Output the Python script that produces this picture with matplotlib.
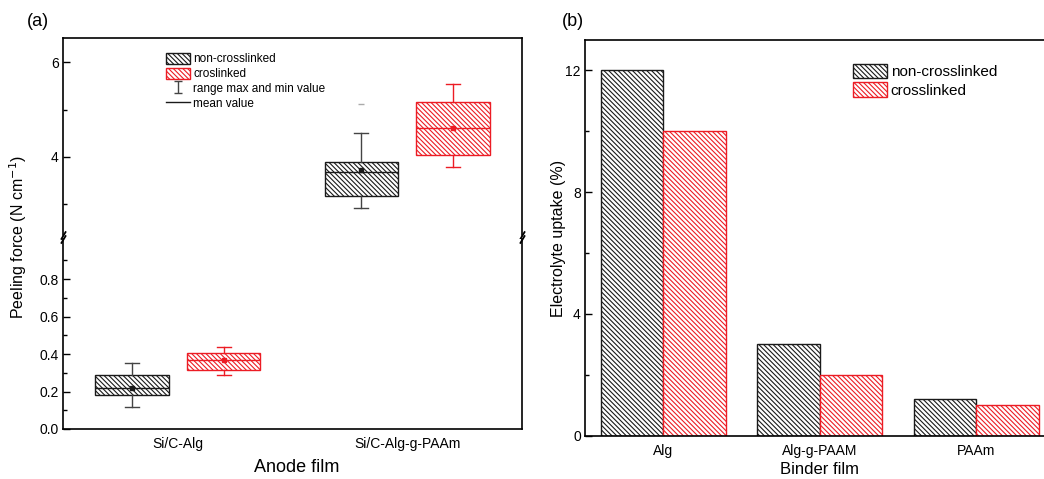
import matplotlib
matplotlib.use("Agg")
import matplotlib.pyplot as plt
import numpy as np
from matplotlib.patches import Patch
from matplotlib.lines import Line2D

plt.rcParams["font.family"] = ["Liberation Sans", "DejaVu Sans"]
plt.rcParams["hatch.linewidth"] = 0.8
plt.rcParams["axes.linewidth"] = 1.2

BLACK = "#1a1a1a"
RED = "#ec1c24"
HATCH = "\\" * 7

# (a) peeling force, box statistics per anode film
anodes = ["Si/C-Alg", "Si/C-Alg-g-PAAm"]
nc_whislo = [0.12, 2.90]
nc_q1 = [0.183, 3.17]
nc_med = [0.22, 3.68]
nc_q3 = [0.287, 3.875]
nc_whishi = [0.35, 4.51]
nc_mean = [0.218, 3.71]
nc_fliers = [[], [5.125]]

cl_whislo = [0.29, 3.78]
cl_q1 = [0.313, 4.04]
cl_med = [0.367, 4.60]
cl_q3 = [0.405, 5.17]
cl_whishi = [0.436, 5.55]
cl_mean = [0.367, 4.60]
cl_fliers = [[], []]

# (b) electrolyte uptake
binders = ["Alg", "Alg-g-PAAM", "PAAm"]
uptake_nc = [12.0, 3.0, 1.2]
uptake_cl = [10.0, 2.0, 1.0]


def make_stats(lo, q1, med, q3, hi, mean, fliers):
    return [dict(whislo=lo[i], q1=q1[i], med=med[i], q3=q3[i], whishi=hi[i],
                 mean=mean[i], fliers=fliers[i]) for i in range(len(lo))]


W, H = 1044, 479
fig = plt.figure(figsize=(W / 100, H / 100), dpi=100)


def fbox(x0, y_top, x1, y_bot):
    return [x0 / W, 1 - y_bot / H, (x1 - x0) / W, (y_bot - y_top) / H]


ax_top = fig.add_axes(fbox(63, 38, 522, 235))
ax_bot = fig.add_axes(fbox(63, 239, 522, 429))
ax_b = fig.add_axes(fbox(585, 40, 1046, 435.7))

pos = np.arange(len(anodes))
stats_nc = make_stats(nc_whislo, nc_q1, nc_med, nc_q3, nc_whishi, nc_mean, nc_fliers)
stats_cl = make_stats(cl_whislo, cl_q1, cl_med, cl_q3, cl_whishi, cl_mean, cl_fliers)

for ax in (ax_top, ax_bot):
    for stats, off, col in ((stats_nc, -0.2, BLACK), (stats_cl, 0.2, RED)):
        wc = "#444444" if col == BLACK else col
        r = ax.bxp(stats, positions=pos + off, widths=0.32, capwidths=0.06,
                   patch_artist=True, showmeans=True,
                   boxprops=dict(facecolor="white", edgecolor=col, linewidth=1.0),
                   medianprops=dict(color=col, linewidth=1.0),
                   whiskerprops=dict(color=wc, linewidth=1.0),
                   capprops=dict(color=wc, linewidth=1.0),
                   meanprops=dict(marker="s", markersize=2.2, markerfacecolor=col,
                                  markeredgecolor=col),
                   flierprops=dict(marker="_", markersize=5, markeredgecolor="#aaaaaa"))
        for b in r["boxes"]:
            b.set_hatch(HATCH)
    ax.set_xlim(-0.5, 1.5)
    ax.tick_params(axis="y", which="both", direction="in", labelsize=10, pad=3)
    ax.tick_params(axis="y", which="major", length=5, width=1.0)
    ax.tick_params(axis="y", which="minor", length=3, width=1.0)

ax_top.set_ylim(2.333, 6.52)
ax_top.set_yticks([4, 6])
ax_top.set_yticks([3, 5], minor=True)
ax_top.spines["bottom"].set_visible(False)
ax_top.set_xticks([])

ax_bot.set_ylim(0, 1.014)
ax_bot.set_yticks([0.0, 0.2, 0.4, 0.6, 0.8])
ax_bot.set_yticklabels(["0.0", "0.2", "0.4", "0.6", "0.8"])
ax_bot.set_yticks([0.1, 0.3, 0.5, 0.7, 0.9], minor=True)
ax_bot.spines["top"].set_visible(False)
ax_bot.set_xticks(pos)
ax_bot.set_xticklabels(anodes)
ax_bot.tick_params(axis="x", length=0, labelsize=10, pad=6)

# break marks
mk = dict(marker=[(-0.6, -1), (0.6, 1)], markersize=6, linestyle="none",
          color="k", mec="k", mew=1.3, clip_on=False)
ax_top.plot([0, 1], [0, 0], transform=ax_top.transAxes, **mk)
ax_bot.plot([0, 1], [1, 1], transform=ax_bot.transAxes, **mk)

leg_a = [
    Patch(facecolor="white", edgecolor=BLACK, hatch=HATCH, linewidth=1.0),
    Patch(facecolor="white", edgecolor=RED, hatch=HATCH, linewidth=1.0),
]
eb = ax_top.errorbar([np.nan], [np.nan], yerr=[[1]], fmt="none", ecolor="#444444",
                     capsize=3, elinewidth=1.0, capthick=1.0)
leg_a.append(eb)
leg_a.append(Line2D([], [], color=BLACK, linewidth=1.0))
ax_top.legend(leg_a, ["non-crosslinked", "croslinked", "range max and min value", "mean value"],
              loc="upper left", bbox_to_anchor=(0.225, 0.925), frameon=False, fontsize=8.5,
              handlelength=2.0, handleheight=1.05, handletextpad=0.3, labelspacing=0.2,
              borderpad=0, borderaxespad=0)

fig.text(18 / W, 1 - 237 / H, "Peeling force (N cm$^{-1}$)", rotation=90,
         ha="center", va="center", fontsize=11.5)
fig.text(297 / W, 1 - 467 / H, "Anode film", ha="center", va="center", fontsize=13)
fig.text(27 / W, 1 - 22 / H, "(a)", ha="left", va="center", fontsize=13)

# (b)
xb = np.arange(len(binders))
ax_b.bar(xb - 0.2, uptake_nc, width=0.4, facecolor="white", edgecolor=BLACK,
         hatch=HATCH, linewidth=1.0, label="non-crosslinked")
ax_b.bar(xb + 0.2, uptake_cl, width=0.4, facecolor="white", edgecolor=RED,
         hatch=HATCH, linewidth=1.0, label="crosslinked")
ax_b.set_xlim(-0.5, 2.445)
ax_b.set_ylim(0, 13)
ax_b.set_yticks([0, 4, 8, 12])
ax_b.set_yticks([2, 6, 10], minor=True)
ax_b.set_xticks(xb)
ax_b.set_xticklabels(binders)
ax_b.tick_params(axis="x", length=0, labelsize=10, pad=6)
ax_b.tick_params(axis="y", which="both", direction="in", labelsize=10, pad=3)
ax_b.tick_params(axis="y", which="major", length=5, width=1.0)
ax_b.tick_params(axis="y", which="minor", length=3, width=1.0)
ax_b.spines["right"].set_visible(False)
ax_b.legend(loc="upper left", bbox_to_anchor=(0.582, 0.94), frameon=False, fontsize=11,
            handlelength=2.2, handleheight=1.1, handletextpad=0.25, labelspacing=0.2,
            borderpad=0, borderaxespad=0)

fig.text(558 / W, 1 - 238 / H, "Electrolyte uptake (%)", rotation=90,
         ha="center", va="center", fontsize=11.5)
fig.text(820 / W, 1 - 470 / H, "Binder film", ha="center", va="center", fontsize=12)
fig.text(562 / W, 1 - 22 / H, "(b)", ha="left", va="center", fontsize=13)

fig.savefig("out.png", dpi=100)
